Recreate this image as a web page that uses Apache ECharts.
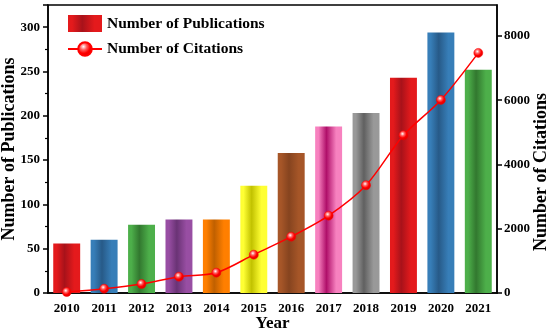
<!DOCTYPE html>
<html>
<head>
<meta charset="utf-8">
<script src="https://cdn.jsdelivr.net/npm/echarts@6/dist/echarts.min.js"></script>
<style>html,body{margin:0;padding:0;background:#fff}#c{width:550px;height:332px}</style>
</head>
<body>
<div id="c"></div>
<script>
const years = ['2010','2011','2012','2013','2014','2015','2016','2017','2018','2019','2020','2021'];
const publications = [56, 60, 77, 83, 83, 121, 158, 188, 203, 243, 294, 252];
const citations = [30, 134, 280, 508, 632, 1192, 1752, 2406, 3352, 4908, 6007, 7470];
const barColors = ['#e41a1c','#377eb8','#4daf4a','#984ea3','#ff7f00','#ffff33','#a65628','#f781bf','#999999','#e41a1c','#377eb8','#4daf4a'];
const barDark = ['#a8121a','#275a88','#32782f','#6a3375','#c06000','#c2c200','#86441f','#b0106a','#606060','#a8121a','#275a88','#32782f'];
const leftTicks = [0, 50, 100, 150, 200, 250, 300];
const rightTicks = [0, 2000, 4000, 6000, 8000];

const FONT = '"Liberation Serif","Times New Roman",serif';
function grad(c, d) {
  return new echarts.graphic.LinearGradient(0, 0, 1, 0, [
    {offset: 0, color: c}, {offset: 0.12, color: c}, {offset: 0.42, color: d}, {offset: 0.78, color: c}, {offset: 1, color: c}
  ]);
}
const ballColor = new echarts.graphic.RadialGradient(0.4, 0.35, 0.7, [
  {offset: 0, color: '#ffffff'}, {offset: 0.3, color: '#ff6060'}, {offset: 0.6, color: '#ff0000'}, {offset: 1, color: '#d00000'}
]);

const chart = echarts.init(document.getElementById('c'), null, {renderer: 'canvas'});
const lbl = {fontFamily: FONT, fontWeight: 'bold', fontSize: 13, color: '#000'};
chart.setOption({
  animation: false,
  grid: {left: 48, right: 53, top: 5, bottom: 39, show: true, borderColor: '#000', borderWidth: 1.5, containLabel: false, outerBoundsMode: 'none'},
  legend: {
    orient: 'vertical', left: 67, top: 15, padding: 0, itemWidth: 34, itemHeight: 17, itemGap: 9,
    textStyle: {fontFamily: FONT, fontWeight: 'bold', fontSize: 15.5, color: '#000'},
    data: [
      {name: 'Number of Publications', icon: 'rect', itemStyle: {color: grad('#e41a1c', '#a8121a')}},
      {name: 'Number of Citations'}
    ]
  },
  xAxis: [{
    type: 'category', data: years, boundaryGap: true,
    name: 'Year', nameLocation: 'middle', nameGap: 22, nameMoveOverlap: false,
    nameTextStyle: {fontFamily: FONT, fontWeight: 'bold', fontSize: 17, color: '#000'},
    axisLine: {lineStyle: {color: '#000', width: 1.5}},
    axisTick: {alignWithLabel: true, length: 5, lineStyle: {color: '#000', width: 1.5}},
    axisLabel: Object.assign({margin: 9, interval: 0}, lbl)
  }, {
    type: 'category', data: years, boundaryGap: true, position: 'bottom',
    axisLine: {show: false},
    axisTick: {length: 3, lineStyle: {color: '#000', width: 1.2}},
    axisLabel: {show: false}
  }],
  yAxis: [{
    type: 'value', min: 0, max: 325, interval: 50,
    name: 'Number of Publications', nameLocation: 'middle', nameGap: 30, nameMoveOverlap: false,
    nameTextStyle: {fontFamily: FONT, fontWeight: 'bold', fontSize: 18, color: '#000'},
    axisLine: {show: true, lineStyle: {color: '#000', width: 1.5}},
    axisTick: {show: true, length: 5, lineStyle: {color: '#000', width: 1.5}},
    minorTick: {show: true, splitNumber: 2, length: 3, lineStyle: {color: '#000', width: 1.2}},
    splitLine: {show: false},
    axisLabel: Object.assign({margin: 8, customValues: leftTicks}, lbl)
  }, {
    type: 'value', min: 0, max: 8960, interval: 2000,
    name: 'Number of Citations', nameLocation: 'middle', nameGap: 35, nameRotate: 90, nameMoveOverlap: false,
    nameTextStyle: {fontFamily: FONT, fontWeight: 'bold', fontSize: 18, color: '#000', padding: [0, 0, 0, -46]},
    axisLine: {show: true, lineStyle: {color: '#000', width: 1.5}},
    axisTick: {show: true, length: 5, customValues: rightTicks, lineStyle: {color: '#000', width: 1.5}},
    splitLine: {show: false},
    axisLabel: Object.assign({margin: 7, customValues: rightTicks, formatter: v => String(v)}, lbl)
  }],
  series: [{
    name: 'Number of Publications', type: 'bar', barWidth: '72%', xAxisIndex: 0, yAxisIndex: 0,
    data: publications.map((v, i) => ({value: v, itemStyle: {color: grad(barColors[i], barDark[i])}}))
  }, {
    name: 'Number of Citations', type: 'line', xAxisIndex: 0, yAxisIndex: 1, smooth: 0.3,
    data: citations, symbol: 'circle', symbolSize: 9,
    lineStyle: {color: '#ff0000', width: 1.5},
    itemStyle: {color: ballColor, borderColor: '#ff0000', borderWidth: 0.5}
  }]
});
</script>
</body>
</html>
